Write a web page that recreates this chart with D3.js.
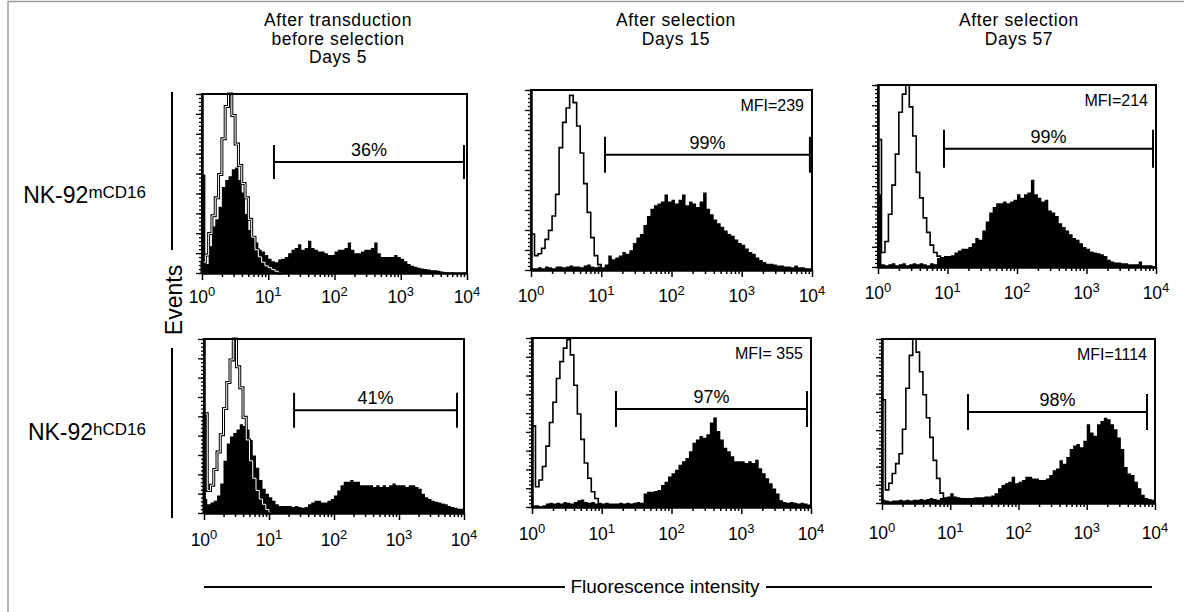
<!DOCTYPE html>
<html>
<head>
<meta charset="utf-8">
<script src="https://cdn.jsdelivr.net/npm/d3@7"></script>
<style>
  body { margin: 0; background: #fff; }
  svg { display: block; font-family: "Liberation Sans", Arial, Helvetica, sans-serif; }
</style>
</head>
<body>
<div id="container"></div>
<script>
/* CONSTANTS AND GLOBALS */
const width = 1184,
  height = 612;

/* DATA */
const columnTitles = [
  ["After transduction", "before selection", "Days 5"],
  ["After selection", "Days 15"],
  ["After selection", "Days 57"]
];
const rowBase = ["NK-92", "NK-92"];
const rowSup = ["mCD16", "hCD16"];
const yLabel = "Events";
const xLabel = "Fluorescence intensity";

const decades = [1, 10, 100, 1000, 10000];
const decadeExps = ["0", "1", "2", "3", "4"];
const binsPerDecade = 20;

const gateText = ["36%", "99%", "99%", "41%", "97%", "98%"];
const mfiText = ["", "MFI=239", "MFI=214", "", "MFI= 355", "MFI=1114"];
const gateLow = [12.2, 11.3, 8.9, 24.3, 16, 18.2];
const gateHigh = [9000, 9340, 9060, 7800, 8770, 7640];
const gateLevel = [62, 64, 65, 59, 58, 55.5];

// % of max events per log bin (20 bins per decade), CD16 stained
const stained_m5 = [55, 5, 15, 26, 30, 37, 48, 52, 54, 58, 59, 52, 45, 33, 24, 20, 17, 13, 12, 10,
  8, 6.5, 6, 7.5, 8, 9, 11, 13, 14, 16, 13, 14, 18, 14, 13, 12, 12, 11, 10, 10,
  12, 13, 13, 14, 17, 13, 11, 11, 12, 13, 13, 14, 17, 11, 9, 9, 9, 9, 10, 9,
  8, 6.5, 5, 4, 3.5, 3, 2.5, 2.2, 2, 1.5, 1.5, 1.2, 0.8, 0.4, 0.3, 0.3, 0.2, 0.2, 0.2, 0.2];
const stained_m15 = [1, 1, 1.5, 1, 2, 1.5, 1, 2, 2, 1.5, 2, 2.5, 2, 2, 1.5, 2.5, 3, 2, 1.5, 2,
  1.5, 3, 8, 6, 7, 8, 10, 9, 11, 15, 18, 20, 25, 30, 34, 36, 37, 38, 42, 38,
  39, 37, 39, 42, 36, 38, 37, 35, 38, 43, 34, 31, 28, 26, 24, 22, 20, 19, 17, 15,
  14, 12, 10, 9, 7, 5.5, 4.5, 3.5, 3.5, 3, 2.5, 2.5, 2, 2, 1.5, 2.5, 1.5, 1.5, 1, 1];
const stained_m57 = [40, 1.5, 1, 1.5, 2, 1, 1.5, 2, 1, 1.5, 2, 1.5, 2, 1.5, 1, 2, 1.5, 5, 5.5, 6,
  6, 6.5, 8, 9, 10, 10, 11, 13, 16, 15, 20, 25, 30, 33, 35, 35, 36, 35, 36, 37,
  40, 38, 40, 41, 48, 40, 38, 36, 37, 31, 30, 28, 24, 22, 20, 18, 16, 15, 13, 11,
  10, 8.5, 8, 7.5, 7, 6, 4, 3, 2.5, 2.5, 2, 2, 1.5, 1.5, 1.5, 3, 1, 1, 1, 0.5];
const stained_h5 = [8, 5, 6, 7, 10, 17, 30, 40, 44, 46, 48, 51, 50, 48, 42, 33, 26, 19, 14, 11,
  9, 7, 5, 4, 4, 4, 4, 3.5, 4, 3.5, 3, 3.5, 5, 6, 7, 7, 6, 6, 7, 8,
  10, 13, 16, 18, 18, 19, 18, 18, 16, 16, 16, 16, 15, 16, 15, 16, 15, 16, 17, 16,
  16, 16, 15, 16, 16, 15, 14, 11, 9, 8, 7, 6.5, 6, 5.5, 5, 4, 3.5, 3, 2.5, 2.5];
const stained_h15 = [1, 1, 0.5, 1, 2, 2.5, 2, 2.5, 2, 3, 2.5, 2, 3, 4, 4.5, 3, 2.5, 3, 2, 2.5,
  2, 2.5, 2, 2, 2, 2.5, 2, 2.5, 2, 2.5, 3, 2.5, 8, 9, 9, 9.5, 10, 13, 15, 18,
  20, 22, 25, 27, 29, 33, 38, 40, 42, 41, 43, 50, 53, 45, 40, 35, 33, 30, 27, 27,
  27, 26, 27, 26, 28, 23, 20, 17, 14, 11, 8, 4, 3, 2.5, 3, 2.5, 2, 2.5, 2, 1.5];
const stained_h57 = [2, 1.5, 1, 1.5, 1.5, 2, 1.5, 2, 1.5, 2, 2, 2.5, 2, 2.5, 3, 2.5, 2, 3, 2.5, 4,
  6, 4, 3.5, 3, 3, 3, 3, 3.5, 3.5, 3.5, 4, 4, 4.5, 6, 9, 11, 12, 13, 16, 12,
  13, 14, 16, 16, 15, 15, 14, 14, 15, 17, 20, 21, 26, 24, 28, 33, 35, 36, 34, 38,
  48, 43, 41, 48, 50, 52, 51, 48, 45, 40, 33, 22, 18, 17, 13, 9, 5, 3, 2.5, 2];

// isotype control, same bins
const control_m5 = [6, 10, 22, 32, 42, 55, 75, 93, 100, 88, 72, 60, 50, 42, 30, 20, 13, 9, 6, 4, 3, 2, 1, 0];
const control_m15 = [20, 8, 9, 12, 17, 22, 30, 42, 68, 82, 90, 97, 93, 80, 65, 48, 32, 18, 8, 3, 0];
const control_m57 = [70, 8, 14, 29, 45, 62, 85, 95, 100, 88, 72, 52, 38, 27, 19, 12, 8, 6, 3, 1, 0];
const control_h5 = [57, 13, 16, 25, 35, 45, 60, 75, 88, 100, 84, 72, 55, 42, 30, 20, 13, 8, 5, 2, 0];
const control_h15 = [48, 12, 16, 24, 36, 50, 62, 76, 86, 94, 99, 90, 72, 55, 40, 26, 17, 9, 5, 1, 0];
const control_h57 = [63, 8, 12, 18, 24, 30, 45, 70, 90, 100, 92, 80, 66, 52, 40, 26, 15, 6, 3, 1, 0];

const stained = [stained_m5, stained_m15, stained_m57, stained_h5, stained_h15, stained_h57];
const controls = [control_m5, control_m15, control_m57, control_h5, control_h15, control_h57];

/* LAYOUT */
const frames = [
  { x0: 202, x1: 467, y0: 94, y1: 273, lab: 303, hh: 17, hollow: true },
  { x0: 531, x1: 812, y0: 90, y1: 270, lab: 302, hh: 18, hollow: false },
  { x0: 878, x1: 1156, y0: 85, y1: 267, lab: 299, hh: 19, hollow: false },
  { x0: 204, x1: 464, y0: 339, y1: 513, lab: 546, hh: 17.5, hollow: true },
  { x0: 532, x1: 811, y0: 338, y1: 507, lab: 540, hh: 18, hollow: false },
  { x0: 882, x1: 1155, y0: 339, y1: 503, lab: 539, hh: 18, hollow: false }
];
const titleX = [338, 676, 1019];

/* HTML ELEMENTS */
const svg = d3.select("#container")
  .append("svg")
  .attr("width", width)
  .attr("height", height);

// outer figure border
svg.append("rect")
  .attr("x", 8).attr("y", 1.5)
  .attr("width", width + 20).attr("height", height + 20)
  .attr("fill", "none")
  .attr("stroke", "#9a9a9a")
  .attr("stroke-width", 1.5);

// column titles
columnTitles.forEach((lines, c) => {
  lines.forEach((s, j) => {
    svg.append("text")
      .attr("x", titleX[c])
      .attr("y", 26 + j * 18.5)
      .attr("text-anchor", "middle")
      .attr("font-size", 17.5)
      .attr("letter-spacing", 0.6)
      .text(s);
  });
});

// row labels
[203, 440].forEach((yy, r) => {
  const t = svg.append("text")
    .attr("x", 146).attr("y", yy)
    .attr("text-anchor", "end")
    .attr("font-size", 23);
  t.append("tspan").text(rowBase[r]);
  t.append("tspan").attr("font-size", 17).attr("dy", -5).text(rowSup[r]);
});

// Events label with lines
svg.append("line").attr("x1", 172).attr("x2", 172).attr("y1", 92).attr("y2", 250)
  .attr("stroke", "#000").attr("stroke-width", 2);
svg.append("line").attr("x1", 172).attr("x2", 172).attr("y1", 348).attr("y2", 518)
  .attr("stroke", "#000").attr("stroke-width", 2);
svg.append("text")
  .attr("transform", "translate(182,300) rotate(-90)")
  .attr("text-anchor", "middle")
  .attr("font-size", 23)
  .text(yLabel);

// Fluorescence intensity label with lines
svg.append("line").attr("x1", 204).attr("x2", 565).attr("y1", 587).attr("y2", 587)
  .attr("stroke", "#000").attr("stroke-width", 2);
svg.append("line").attr("x1", 766).attr("x2", 1152).attr("y1", 587).attr("y2", 587)
  .attr("stroke", "#000").attr("stroke-width", 2);
svg.append("text")
  .attr("x", 665).attr("y", 593)
  .attr("text-anchor", "middle")
  .attr("font-size", 19)
  .text(xLabel);

const minorX = decades.slice(0, -1).flatMap(d => d3.range(2, 10).map(m => m * d));
const edge = i => Math.pow(10, i / binsPerDecade);

// panels
frames.forEach((f, k) => {
  const xScale = d3.scaleLog()
    .domain([decades[0], decades[decades.length - 1]])
    .range([f.x0, f.x1]);
  const yScale = d3.scaleLinear()
    .domain([0, 100])
    .range([f.y1, f.y0]);

  const g = svg.append("g");

  // stained histogram (filled)
  const s = stained[k];
  const sPts = s.map((v, i) => [edge(i), v]);
  sPts.push([edge(s.length), s[s.length - 1]]);
  g.append("path")
    .datum(sPts)
    .attr("d", d3.area()
      .curve(d3.curveStepAfter)
      .x(d => xScale(d[0]))
      .y0(yScale(0))
      .y1(d => yScale(d[1])))
    .attr("fill", "#000");

  // control histogram (open)
  const c = controls[k];
  const cPts = [[edge(0), 0]].concat(c.map((v, i) => [edge(i), v]));
  cPts.push([edge(c.length), 0]);
  const cLine = d3.line()
    .curve(d3.curveStepAfter)
    .x(d => xScale(d[0]))
    .y(d => yScale(d[1]));
  g.append("path")
    .datum(cPts)
    .attr("d", cLine)
    .attr("fill", "none")
    .attr("stroke", "#000")
    .attr("stroke-width", f.hollow ? 3 : 1.6);
  if (f.hollow) {
    g.append("path")
      .datum(cPts)
      .attr("d", cLine)
      .attr("fill", "none")
      .attr("stroke", "#fff")
      .attr("stroke-width", 1);
  }

  // frame (top / right / left)
  g.append("path")
    .attr("d", `M${f.x0},${f.y1}V${f.y0}H${f.x1}V${f.y1}`)
    .attr("fill", "none")
    .attr("stroke", "#000")
    .attr("stroke-width", 2);

  // x axis: minor + major ticks
  const xMinor = g.append("g")
    .attr("transform", `translate(0,${f.y1})`)
    .call(d3.axisBottom(xScale).tickValues(minorX).tickSize(4).tickSizeOuter(0).tickFormat(""));
  const xMajor = g.append("g")
    .attr("transform", `translate(0,${f.y1})`)
    .call(d3.axisBottom(xScale).tickValues(decades).tickSize(7).tickSizeOuter(0).tickFormat(""));
  [xMinor, xMajor].forEach(a => {
    a.select(".domain").attr("stroke-width", 2);
    a.selectAll(".tick line").attr("stroke-width", 1.5);
  });

  // tick labels 10^n
  decades.forEach((d, i) => {
    const t = g.append("text")
      .attr("x", xScale(d))
      .attr("y", f.lab)
      .attr("text-anchor", "middle")
      .attr("font-size", 17.5);
    t.append("tspan").text("10");
    t.append("tspan").attr("font-size", 13).attr("dy", -7).text(decadeExps[i]);
  });

  // y axis ticks
  const yMinor = g.append("g")
    .attr("transform", `translate(${f.x0},0)`)
    .call(d3.axisLeft(yScale).tickValues(d3.range(0, 46).map(i => i * 100 / 45)).tickSize(3).tickSizeOuter(0).tickFormat(""));
  const yMajor = g.append("g")
    .attr("transform", `translate(${f.x0},0)`)
    .call(d3.axisLeft(yScale).tickValues(d3.range(0, 10).map(i => i * 100 / 9)).tickSize(6).tickSizeOuter(0).tickFormat(""));
  [yMinor, yMajor].forEach(a => {
    a.select(".domain").attr("stroke-width", 2);
    a.selectAll(".tick line").attr("stroke-width", 1.3);
  });

  // gate marker
  const gx0 = xScale(gateLow[k]), gx1 = xScale(gateHigh[k]), gy = yScale(gateLevel[k]);
  g.append("path")
    .attr("d", `M${gx0},${gy - f.hh}V${gy + f.hh}M${gx0},${gy}H${gx1}M${gx1},${gy - f.hh}V${gy + f.hh}`)
    .attr("fill", "none")
    .attr("stroke", "#000")
    .attr("stroke-width", 2);
  g.append("text")
    .attr("x", (gx0 + gx1) / 2)
    .attr("y", gy - 6)
    .attr("text-anchor", "middle")
    .attr("font-size", 18)
    .text(gateText[k]);

  // MFI
  if (mfiText[k]) {
    g.append("text")
      .attr("x", f.x1 - 8)
      .attr("y", f.y0 + 21)
      .attr("text-anchor", "end")
      .attr("font-size", 16)
      .text(mfiText[k]);
  }
});
</script>
</body>
</html>
